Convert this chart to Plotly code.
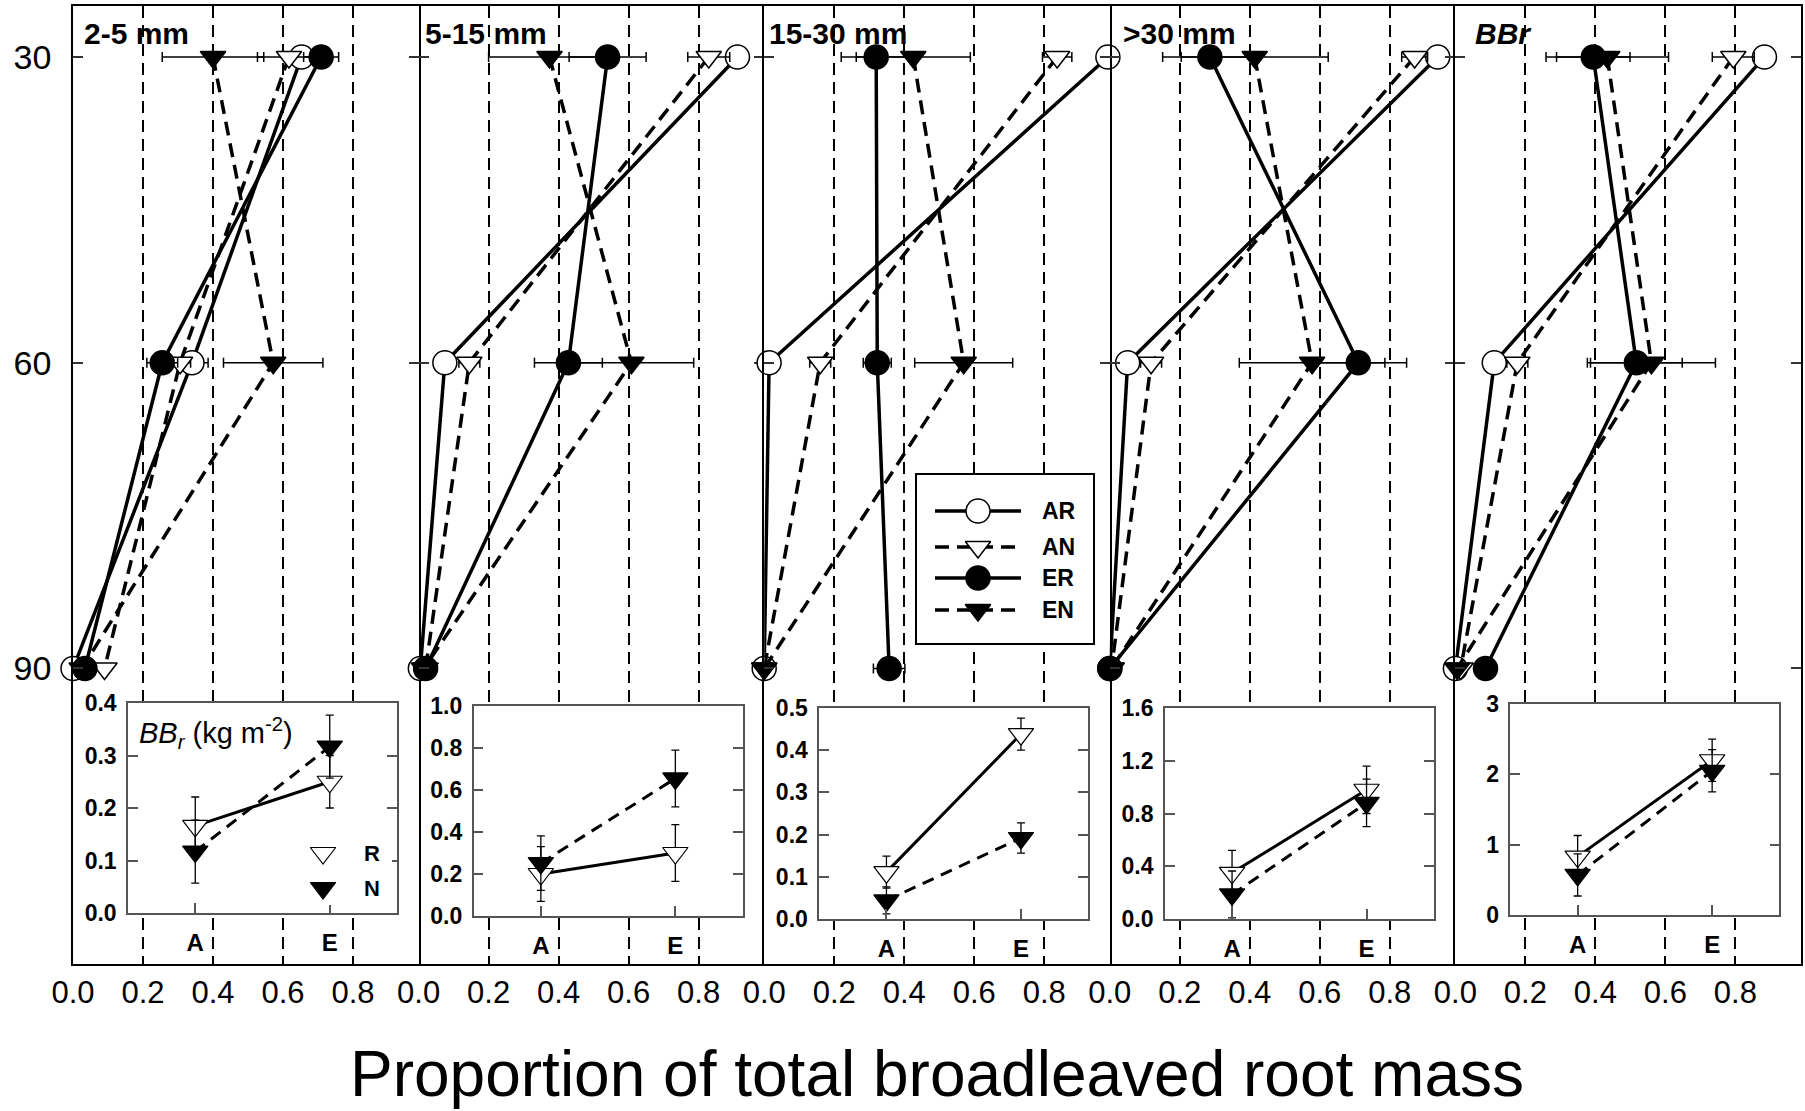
import plotly.graph_objects as go

# ---------------- data ----------------
depths = [30, 60, 90]
panel_titles = ["2-5 mm", "5-15 mm", "15-30 mm", ">30 mm", "<i>BBr</i>"]
x_ticks = [0.0, 0.2, 0.4, 0.6, 0.8]
x_ticktext = ["0.0", "0.2", "0.4", "0.6", "0.8"]

# proportion of total root mass at depths 30, 60, 90 (one row per panel)
AR = [[0.653, 0.340, 0.000], [0.911, 0.075, 0.005], [0.982, 0.014, 0.000],
      [0.937, 0.051, 0.000], [0.883, 0.111, 0.000]]
AR_err = [[0.03, 0.046, 0], [0.02, 0.02, 0], [0.0, 0.0, 0],
          [0.02, 0.02, 0], [0.02, 0.02, 0]]
AN = [[0.617, 0.306, 0.090], [0.829, 0.145, 0.020], [0.837, 0.160, 0.000],
      [0.871, 0.118, 0.005], [0.794, 0.177, 0.015]]
AN_err = [[0.09, 0.03, 0], [0.06, 0.03, 0], [0.042, 0.03, 0],
          [0.037, 0.03, 0], [0.06, 0.03, 0]]
ER = [[0.709, 0.255, 0.034], [0.540, 0.428, 0.020], [0.320, 0.323, 0.357],
      [0.286, 0.710, 0.000], [0.394, 0.517, 0.086]]
ER_err = [[0.05, 0.044, 0], [0.11, 0.097, 0], [0.10, 0.04, 0.045],
          [0.135, 0.138, 0], [0.105, 0.131, 0]]
EN = [[0.400, 0.572, 0.025], [0.374, 0.608, 0.015], [0.426, 0.570, 0.000],
      [0.414, 0.578, 0.005], [0.434, 0.560, 0.005]]
EN_err = [[0.145, 0.142, 0], [0.174, 0.178, 0], [0.163, 0.14, 0],
          [0.21, 0.208, 0], [0.175, 0.183, 0]]

# insets: BBr (kg m-2) for A and E
inset_cats = ["A", "E"]
inset_R = [[0.166, 0.250], [0.200, 0.300], [0.111, 0.438], [0.350, 0.980], [0.83, 2.20]]
inset_R_err = [[0.055, 0.05], [0.13, 0.135], [0.038, 0.038], [0.17, 0.18], [0.30, 0.30]]
inset_N = [[0.117, 0.317], [0.252, 0.655], [0.044, 0.192], [0.186, 0.880], [0.57, 2.05]]
inset_N_err = [[0.06, 0.06], [0.13, 0.135], [0.032, 0.036], [0.178, 0.18], [0.30, 0.30]]
inset_ymax = [0.4, 1.0, 0.5, 1.6, 3]
inset_dtick = [0.1, 0.2, 0.1, 0.4, 1]
inset_fmt = ["{:.1f}", "{:.1f}", "{:.1f}", "{:.1f}", "{:.0f}"]

legend_names = ["AR", "AN", "ER", "EN"]
inset_legend_names = ["R", "N"]

# ---------------- layout geometry (pixels) ----------------
W, H = 1805, 1111
ML, MR, MT, MB = 73, 4, 6, 147
PW = (W - ML - MR) / 5.0
PH = H - MT - MB
FONT = "Liberation Sans, Arial, sans-serif"


def px_x(p):
    return (p - ML) / (W - ML - MR)


def px_y(p):
    return (H - MB - p) / PH


fig = go.Figure()
series = [
    ("AR", AR, AR_err, "circle", "white", "solid"),
    ("AN", AN, AN_err, "triangle-down", "white", "14px,8px"),
    ("ER", ER, ER_err, "circle", "black", "solid"),
    ("EN", EN, EN_err, "triangle-down", "black", "14px,8px"),
]
lay = {}
for i in range(5):
    xa = "x" if i == 0 else f"x{i+1}"
    ya = "y" if i == 0 else f"y{i+1}"
    for name, vals, errs, sym, fill, dash in series:
        fig.add_trace(go.Scatter(
            x=vals[i], y=depths, mode="lines+markers", name=name,
            xaxis=xa, yaxis=ya, showlegend=False, cliponaxis=False,
            line=dict(color="black", width=3.5, dash=dash),
            marker=dict(symbol=sym, size=24 if sym == "circle" else 22, color=fill,
                        line=dict(color="black", width=1.5)),
            error_x=dict(type="data", array=errs[i], color="black", thickness=1.5, width=5),
        ))
    k = "" if i == 0 else str(i + 1)
    lay[f"xaxis{k}"] = dict(
        domain=[i * 0.2, (i + 1) * 0.2], range=[0, PW / 350.0], anchor=ya,
        tickvals=x_ticks, ticktext=x_ticktext, ticks="", showgrid=True,
        gridcolor="black", gridwidth=2, griddash="12px,7px", zeroline=False,
        showline=True, linecolor="black", linewidth=1.5, mirror=True,
        tickfont=dict(family=FONT, size=31, color="black"), ticklabelstandoff=0,
    )
    # panels 1,3,5 draw both vertical borders; 2 and 4 reuse their neighbours' lines
    lay[f"yaxis{k}"] = dict(
        domain=[0, 1], range=[119, 25], anchor=xa, tickvals=[30, 60, 90],
        ticks="inside", ticklen=10, tickwidth=1.5, tickcolor="#333",
        showticklabels=(i == 0), showgrid=False, zeroline=False,
        showline=(i % 2 == 0), linecolor="black", linewidth=1.5, mirror="ticks",
        tickfont=dict(family=FONT, size=34, color="black"), ticklabelstandoff=13,
    )

# insets
inset_tops = [703, 706, 708, 708, 704]
inset_bots = [913, 916, 919, 919, 915]
for i in range(5):
    n = 6 + i
    xa, ya = f"x{n}", f"y{n}"
    left = ML + i * PW
    for vals, errs, fill, dash in [(inset_R, inset_R_err, "white", "solid"),
                                   (inset_N, inset_N_err, "black", "12px,8px")]:
        fig.add_trace(go.Scatter(
            x=[1, 2], y=vals[i], mode="lines+markers", xaxis=xa, yaxis=ya,
            showlegend=False, cliponaxis=False,
            line=dict(color="black", width=3, dash=dash),
            marker=dict(symbol="triangle-down", size=22, color=fill,
                        line=dict(color="black", width=1.2)),
            error_y=dict(type="data", array=errs[i], color="black", thickness=1.3, width=4),
        ))
    nt = int(round(inset_ymax[i] / inset_dtick[i]))
    yt = [j * inset_dtick[i] for j in range(nt + 1)]
    lay[f"xaxis{n}"] = dict(
        domain=[px_x(left + 55), px_x(left + 324)], range=[0.5, 2.5], anchor=ya,
        tickvals=[1, 2], ticktext=[f"<b>{c}</b>" for c in inset_cats],
        ticks="inside", ticklen=10,
        tickcolor="#555", tickwidth=1.5, showgrid=False, zeroline=False,
        showline=True, linecolor="#555", linewidth=1.5, mirror=True,
        tickfont=dict(family=FONT, size=24, color="black"),
        ticklabelstandoff=7,
    )
    lay[f"yaxis{n}"] = dict(
        domain=[px_y(inset_bots[i]), px_y(inset_tops[i])], range=[0, inset_ymax[i]],
        anchor=xa, tickvals=yt, ticktext=[f"<b>{inset_fmt[i].format(v)}</b>" for v in yt],
        ticks="inside", ticklen=10, tickcolor="#555", tickwidth=1.5,
        showgrid=False, zeroline=False, showline=True, linecolor="#555",
        linewidth=1.5, mirror="ticks",
        tickfont=dict(family=FONT, size=23, color="black"),
        ticklabelstandoff=5,
    )

# main legend box (own small axes)
leg_rows = [36, 72, 103, 135]
for (name, vals, errs, sym, fill, dash), yv in zip(series, leg_rows):
    fig.add_trace(go.Scatter(x=[18, 104], y=[yv, yv], mode="lines", xaxis="x11", yaxis="y11",
                             showlegend=False, line=dict(color="black", width=3.5, dash=dash)))
    fig.add_trace(go.Scatter(x=[61], y=[yv], mode="markers", xaxis="x11", yaxis="y11",
                             showlegend=False, cliponaxis=False,
                             marker=dict(symbol=sym, size=24 if sym == "circle" else 22, color=fill,
                                         line=dict(color="black", width=1.5))))
lay["xaxis11"] = dict(domain=[px_x(917), px_x(1093)], range=[0, 176], anchor="y11",
                      showgrid=False, zeroline=False, showticklabels=False, ticks="",
                      showline=True, mirror=True, linecolor="black", linewidth=1.5)
lay["yaxis11"] = dict(domain=[px_y(643), px_y(475)], range=[168, 0], anchor="x11",
                      showgrid=False, zeroline=False, showticklabels=False, ticks="",
                      showline=True, mirror=True, linecolor="black", linewidth=1.5)

# inset legend (R / N) inside first inset
for fill, yv in zip(["white", "black"], [853, 888]):
    fig.add_trace(go.Scatter(x=[323], y=[yv], mode="markers", xaxis="x12", yaxis="y12",
                             showlegend=False, cliponaxis=False,
                             marker=dict(symbol="triangle-down", size=22, color=fill,
                                         line=dict(color="black", width=1.2))))
lay["xaxis12"] = dict(domain=[px_x(300), px_x(392)], range=[300, 392], anchor="y12",
                      visible=False)
lay["yaxis12"] = dict(domain=[px_y(905), px_y(832)], range=[905, 832], anchor="x12",
                      visible=False)

annotations = []
title_offsets = [9, 4, 3, 11, 18]
for i, t in enumerate(panel_titles):
    annotations.append(dict(
        text=f"<b>{t}</b>", x=px_x(ML + i * PW + title_offsets[i]), y=px_y(33),
        xref="paper", yref="paper", xanchor="left", yanchor="middle", showarrow=False,
        font=dict(family=FONT, size=30, color="black")))
for name, yv in zip(legend_names, leg_rows):
    annotations.append(dict(text=f"<b>{name}</b>", x=123, y=yv, xref="x11", yref="y11",
                            xanchor="left", yanchor="middle", showarrow=False,
                            font=dict(family=FONT, size=23, color="black")))
for name, yv in zip(inset_legend_names, [853, 888]):
    annotations.append(dict(text=f"<b>{name}</b>", x=372, y=yv, xref="x12", yref="y12",
                            xanchor="center", yanchor="middle", showarrow=False,
                            font=dict(family=FONT, size=22, color="black")))
annotations.append(dict(text="<i>BB<sub>r</sub></i> (kg m<sup>-2</sup>)",
                        x=px_x(137), y=px_y(733), xref="paper", yref="paper",
                        xanchor="left", yanchor="middle", showarrow=False,
                        font=dict(family=FONT, size=29, color="black")))
annotations.append(dict(text="Proportion of total broadleaved root mass",
                        x=0.5, y=px_y(1074), xref="paper", yref="paper",
                        xanchor="center", yanchor="middle", showarrow=False, borderpad=0,
                        font=dict(family=FONT, size=64, color="black")))

fig.update_layout(
    width=W, height=H, margin=dict(l=ML, r=MR, t=MT, b=MB, autoexpand=False),
    paper_bgcolor="white", plot_bgcolor="white", showlegend=False,
    annotations=annotations, **lay,
)
fig.write_html("out.html", config={"displayModeBar": False},
               post_script="document.body.style.margin='0';")
